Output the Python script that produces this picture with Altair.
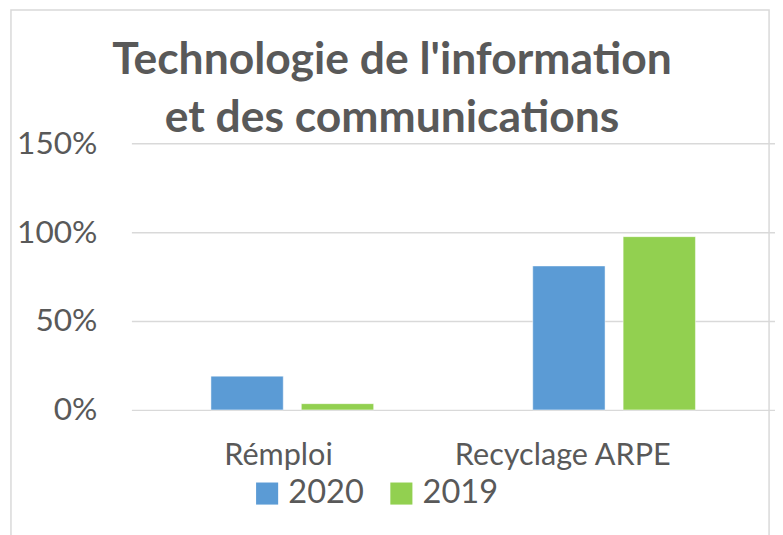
import altair as alt
import pandas as pd

categories = ["Rémploi", "Recyclage ARPE"]
series = ["2020", "2019"]
values_2020 = [0.19, 0.81]
values_2019 = [0.035, 0.975]
colors = ["#5b9bd5", "#92d050"]
title_lines = ["Technologie de l'information", "et des communications"]
y_ticks = [0, 0.5, 1.0, 1.5]

rows = []
for c, a, b in zip(categories, values_2020, values_2019):
    rows.append({"cat": c, "year": series[0], "val": a})
    rows.append({"cat": c, "year": series[1], "val": b})
df = pd.DataFrame(rows)

FONT = "Lato"
GRAY = "#595959"

bars = alt.Chart(df).mark_bar(stroke="#ffffff", strokeWidth=0.8, strokeOpacity=0.6).encode(
    x=alt.X(
        "cat:N", sort=categories,
        scale=alt.Scale(paddingInner=0, paddingOuter=0),
        axis=alt.Axis(
            title=None, labelAngle=0, domain=False, ticks=False, grid=False,
            labelFont=FONT, labelFontSize=31, labelColor=GRAY, labelLimit=0,
            labelPadding=55, labelBaseline="alphabetic",
            labelOffset={"condition": {"test": "datum.value === 'Rémploi'", "value": -14}, "value": -52},
        ),
    ),
    xOffset=alt.XOffset("year:N", sort=series, scale=alt.Scale(paddingInner=0.2, paddingOuter=0.88)),
    y=alt.Y(
        "val:Q",
        scale=alt.Scale(domain=[0, 1.5], nice=False),
        axis=alt.Axis(
            values=y_ticks, format=".0%", title=None, domain=False, ticks=False,
            labelPadding=35, labelFont=FONT, labelFontSize=32, labelColor=GRAY,
            gridColor="#d9d9d9", gridWidth=1.5,
        ),
    ),
    color=alt.Color(
        "year:N", sort=series,
        scale=alt.Scale(domain=series, range=colors),
        legend=alt.Legend(
            title=None, orient="none", direction="horizontal",
            legendX=121, legendY=338, symbolType="square", symbolSize=500,
            labelFontSize=33, labelFont=FONT, labelColor=GRAY,
            symbolStrokeWidth=0, columnPadding=21, labelOffset=5, padding=0,
            symbolOpacity=1,
        ),
    ),
)

border = alt.Chart(alt.Data(values=[{"a": 1}])).mark_rect(
    fillOpacity=0, stroke="#d9d9d9", strokeWidth=1.5
).encode(x=alt.value(-122), x2=alt.value(646), y=alt.value(-135), y2=alt.value(420))

title = alt.Chart(alt.Data(values=[{"a": 1}])).mark_text(
    text=title_lines, font=FONT, fontSize=45, fontWeight="bold", color=GRAY,
    align="center", baseline="alphabetic", lineHeight=58,
).encode(x=alt.value(264), y=alt.value(-70))

chart = alt.layer(border, bars, title).properties(
    width=652, height=270,
    padding={"left": 125, "top": 133.7, "right": 0, "bottom": 123},
    autosize=alt.AutoSizeParams(type="none"),
    background="white",
).configure_view(stroke=None)

chart.save("out.html", embed_options={"renderer": "svg", "actions": False})
